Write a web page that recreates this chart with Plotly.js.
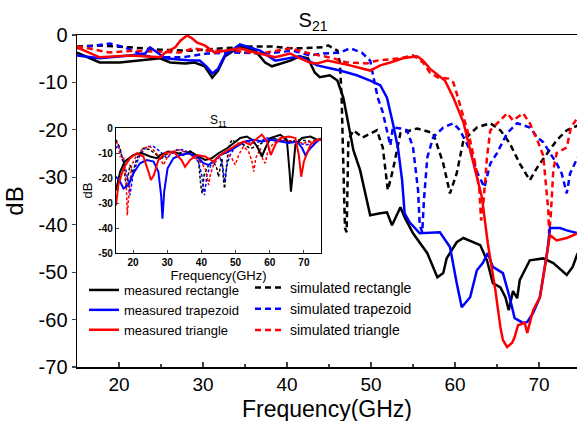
<!DOCTYPE html>
<html>
<head>
<meta charset="utf-8">
<script src="https://cdn.plot.ly/plotly-3.0.1.min.js"></script>
<style>html,body{margin:0;padding:0;background:#fff;}#chart{width:577px;height:421px;}</style>
</head>
<body>
<div id="chart"></div>
<script>
// ---------- Main chart: S21 ----------
const measRectF = [15,16.5,17.7,20.1,22.5,24.9,26.1,27.9,29.0,30.2,31.1,31.8,32.6,34.4,36.2,37.4,38.2,39.2,40.4,41.5,42.5,43.3,43.9,45.1,46.0,46.7,47.9,48.7,49.9,51.1,51.9,52.5,53.5,54.0,55.0,56.7,57.9,58.6,59.0,60.2,61.0,63.0,63.8,64.5,65.4,66.0,66.4,66.9,67.4,67.7,68.9,70.5,71.7,73.3,74.0,74.6];
const measRectDB = [-3.7,-4.9,-5.8,-5.8,-5.4,-4.9,-5.8,-6.0,-5.8,-6.6,-9.0,-7.5,-4.5,-2.4,-3.3,-5.8,-6.6,-6.0,-5.4,-4.5,-4.9,-7.9,-8.9,-8.5,-9.6,-13.2,-24.3,-28.5,-38.0,-37.6,-37.4,-40.1,-36.3,-38.4,-41.8,-46.0,-51.1,-50.2,-47.1,-43.7,-42.8,-44.3,-47.5,-52.3,-53.2,-55.3,-58.0,-54.0,-55.5,-51.7,-47.5,-47.1,-48.1,-50.6,-48.9,-46.0];

const measTrapF = [15.0,17.7,21.3,23.1,23.7,24.5,25.5,28.5,29.6,30.4,31.1,31.8,32.6,34.4,36.8,38.6,40.4,41.5,43.6,46.3,48.3,49.9,51.1,51.9,52.6,53.2,53.7,54.0,54.6,55.8,58.2,59.4,60.2,60.8,61.8,62.6,63.3,63.9,64.5,65.7,66.5,67.1,68.1,68.6,69.3,70.1,71.0,71.3,72.5,73.3,74.6];
const measTrapDB = [-4.3,-4.9,-4.3,-3.9,-2.6,-3.7,-4.9,-5.4,-5.4,-6.6,-8.1,-7.1,-4.3,-2.0,-3.3,-5.4,-4.9,-4.5,-6.4,-7.5,-8.5,-9.6,-10.6,-13.2,-18.6,-23.7,-30.6,-37.6,-39.5,-41.8,-41.6,-44.7,-52.3,-57.4,-55.3,-49.6,-48.1,-46.0,-48.9,-50.2,-55.3,-59.7,-60.7,-60.5,-58.6,-55.3,-45.4,-40.7,-40.7,-41.2,-41.8];

const measTriF = [15.0,16.5,17.7,21.3,24.9,25.5,26.7,27.3,28.1,28.7,29.3,30.2,31.4,32.6,34.4,36.2,38.6,40.4,41.5,42.7,43.6,44.8,47.5,49.9,51.1,52.3,53.8,55.5,56.2,57.0,58.8,59.8,61.0,62.1,63.2,63.9,64.8,65.4,65.7,66.2,66.8,67.1,67.5,68.3,68.6,69.3,70.1,70.5,71.1,71.3,72.1,73.3,74.6];
const measTriDB = [-2.6,-3.7,-4.7,-4.3,-4.7,-3.7,-2.6,-1.2,-0.1,-0.7,-1.6,-2.2,-3.7,-3.3,-2.8,-3.7,-4.7,-3.9,-4.9,-5.8,-6.0,-5.4,-6.4,-7.5,-6.4,-5.8,-4.9,-4.5,-5.4,-7.1,-9.6,-13.2,-18.4,-26.4,-34.2,-43.9,-53.8,-61.6,-64.3,-65.8,-64.9,-63.7,-61.2,-60.7,-62.8,-58.0,-55.3,-51.1,-43.9,-42.2,-43.3,-42.8,-41.8];

const simRectF = [15.0,17.7,21.3,24.9,28.5,32.0,35.6,38.0,40.4,41.5,44.3,44.9,46.0,46.3,46.5,46.7,46.9,47.1,47.3,47.9,49.0,50.7,51.4,52.0,52.6,53.5,55.5,57.4,58.6,59.4,60.2,61.0,62.6,64.2,65.4,66.5,67.7,68.9,69.8,71.0,72.1,73.3,74.6];
const simRectDB = [-2.4,-2.2,-2.6,-3.1,-3.3,-2.8,-2.4,-2.4,-2.8,-2.8,-2.6,-2.2,-3.3,-6.0,-13.2,-27.1,-40.7,-41.6,-22.2,-20.1,-21.6,-20.1,-23.7,-32.7,-28.5,-20.7,-19.7,-20.7,-27.1,-33.4,-29.2,-22.2,-19.5,-18.6,-20.1,-22.8,-27.1,-30.6,-27.9,-24.9,-22.2,-20.1,-19.1];

const simTrapF = [15.0,16.5,18.9,20.7,22.9,24.5,27.6,30.5,33.6,37.6,40.7,42.7,44.3,46.3,47.5,48.9,49.9,50.2,50.8,51.4,51.7,52.3,52.6,53.5,54.3,55.0,55.6,55.8,56.1,56.3,56.7,57.4,58.6,59.8,60.6,61.8,62.7,63.5,64.2,65.0,66.2,67.4,68.9,69.8,70.5,71.3,72.1,72.7,73.3,73.7,74.6];
const simTrapDB = [-2.8,-2.4,-1.8,-2.6,-4.3,-4.7,-4.7,-3.9,-3.7,-3.9,-3.3,-4.3,-3.9,-3.7,-2.8,-3.7,-5.4,-8.1,-13.2,-16.3,-18.6,-23.3,-19.5,-19.7,-20.1,-23.7,-32.7,-40.1,-41.6,-34.8,-25.8,-21.6,-19.5,-18.6,-20.1,-24.3,-29.2,-32.1,-27.1,-24.9,-20.7,-18.6,-19.5,-21.6,-22.6,-24.9,-27.1,-29.2,-33.4,-29.2,-25.8];

const simTriF = [15.0,15.7,18.9,21.7,27.3,28.8,30.5,33.6,36.8,40.4,42.7,45.5,47.1,49.5,50.7,53.5,55.0,56.2,57.0,57.9,59.2,59.8,60.2,61.0,61.8,62.4,62.9,63.1,63.3,63.6,63.8,64.2,65.0,65.7,66.2,66.9,68.1,68.9,69.8,70.5,70.7,71.1,71.2,71.4,71.7,72.1,73.3,73.8,74.6];
const simTriDB = [-2.4,-2.6,-3.7,-3.3,-3.7,-2.8,-3.3,-3.3,-3.9,-2.8,-3.9,-4.9,-5.8,-6.0,-5.4,-4.9,-4.3,-5.8,-7.9,-8.9,-9.2,-10.0,-12.3,-17.4,-22.2,-27.1,-32.7,-39.1,-36.9,-30.6,-25.8,-20.1,-18.6,-17.4,-16.5,-18.0,-16.5,-18.6,-22.2,-25.4,-29.6,-36.9,-41.8,-38.0,-28.5,-24.9,-23.7,-19.5,-17.4];

// ---------- Inset: S11 ----------
const inMeasRectF = [15,16.2,17.6,20.1,22.5,25,26.9,27.9,30.3,32.8,34.7,36.7,39.1,41.1,43,45,47.5,49.4,51.4,53.3,54.8,56.3,57.7,58.7,60.2,63.1,65,65.8,66.2,66.8,67.5,69.4,71.9,73.8,75];
const inMeasRectDB = [-25,-17.5,-13.4,-10.8,-10,-11.4,-12.1,-10.8,-9.4,-10,-10.8,-9.4,-11.4,-12.8,-12.1,-10.1,-8.1,-6,-4,-3.4,-4.7,-7.4,-11.4,-8.1,-4,-2.7,-4.7,-17.5,-25.5,-17.5,-6.7,-4,-3.4,-4.7,-4.7];

const inMeasTrapF = [15,16.2,17.2,18.6,20.1,22,24,26,27.4,28.2,28.6,29.1,30.1,31.8,33.8,36.2,38.7,40.6,42.1,43.5,45.5,47.9,50.4,52.8,55.3,57.7,60.2,63.1,65.6,68,69.5,70.4,71.9,73.8,75];
const inMeasTrapDB = [-19.5,-21.5,-24.2,-22.8,-18.1,-14.1,-12.8,-13.4,-17.5,-26.9,-36.3,-25.5,-16.1,-12.1,-10.8,-10.1,-11.4,-14.1,-14.8,-13.4,-10.8,-9.4,-7.4,-5.4,-4.7,-5.4,-4.7,-5.4,-6,-5.4,-8.1,-10.8,-8.1,-5.4,-4.4];

const inMeasTriF = [15,15.7,17.2,19.1,21.1,23,24.5,25.2,26.1,27.4,29.4,31.8,34.2,35.2,36.7,38.7,41.1,43.5,45.5,47.9,50.4,52.3,54.3,55.8,57.7,59.2,60.3,61.6,63.1,65.6,67.5,68.5,69.2,70,71.9,73.8,75];
const inMeasTriDB = [-31,-22.8,-16.1,-12.1,-10.1,-11.4,-17.5,-20.8,-18.8,-12.8,-10.1,-9.4,-12.8,-15.5,-12.8,-10.8,-11.4,-13.4,-10.8,-8.7,-6.7,-5.4,-6.7,-4.7,-2.7,-5.4,-10.8,-6.7,-4,-3.4,-4,-10.8,-19.5,-13.4,-6.7,-4.7,-4.7];

const inSimRectF = [15,16.2,17.2,18,18.6,19.1,19.9,21.1,23,25,26.9,27.9,29.4,31.3,33.3,35.2,37.2,39.1,39.8,40.2,40.8,42.1,43.5,44.5,45,45.5,46,46.5,46.8,47.3,47.9,48.9,50.4,52.3,54.3,56.3,58.2,60.2,63.1,66,69,71.9,75];
const inSimRectDB = [-4.7,-8.1,-14.8,-23.5,-18.8,-14.8,-18.1,-12.1,-8.1,-8.7,-10.8,-12.8,-10.8,-9.4,-10.1,-9.4,-9.4,-12.1,-22.8,-26.2,-18.8,-14.8,-13.4,-16.1,-19.5,-14.8,-12.1,-21.5,-24.2,-16.1,-8.1,-4.7,-6,-6.7,-8.1,-7.4,-5.4,-4,-4.7,-5.4,-4.7,-5.4,-4.7];

const inSimTrapF = [15,15.7,16.6,17.6,18.6,19.1,20.1,22,24,26,27.9,29.9,30.8,32.8,34.7,37.2,39.1,40.1,40.9,41.6,43,44.5,45.5,46.3,46.8,47.5,48.4,49.9,51.4,53.3,55.3,57.2,59.2,62.1,65,68,70.9,72.9,75];
const inSimTrapDB = [-8.1,-6.7,-10.8,-14.8,-21.5,-26.9,-17.5,-10.8,-7.4,-7.4,-9.4,-12.1,-10.8,-8.7,-8.7,-10.8,-13.4,-18.8,-26.9,-18.8,-14.1,-12.1,-12.1,-16.1,-21.5,-14.8,-10.8,-7.4,-6,-5.4,-6,-5.4,-4,-4.7,-5.4,-6,-6.7,-6,-4.7];

const inSimTriF = [15,15.7,16.2,17.2,18,18.3,18.9,19.6,21.1,23,25,26.4,27.9,28.9,30.1,31.8,33.8,35.7,37.6,39.6,41.1,42.1,42.6,43.5,45,46.5,47.9,48.9,49.9,50.9,52.3,53.8,54.8,55.3,55.9,57.2,58,58.7,59.4,61.1,64.1,67,69.9,72.9,75];
const inSimTriDB = [-5.4,-7.4,-11.4,-11.4,-21.5,-34.9,-24.2,-14.8,-10.8,-8.1,-7.4,-9.4,-12.1,-14.8,-11.4,-9.4,-8.7,-10.1,-11.4,-13.4,-16.1,-22.8,-18.8,-14.8,-12.1,-9.4,-10.8,-12.1,-14.8,-10.8,-7.4,-9.4,-13.4,-17.5,-12.1,-8.1,-12.8,-14.1,-9.4,-6,-4.7,-5.4,-6,-5.4,-4];

const xTicks = [20, 30, 40, 50, 60, 70];
const yTicksMain = [0, -10, -20, -30, -40, -50, -60, -70];
const yTickTextMain = ['0', '-10', '-20', '-30', '-40', '-50', '-60', '-70'];
const yTicksInset = [0, -10, -20, -30, -40, -50];
const yTickTextInset = ['0', '-10', '-20', '-30', '-40', '-50'];

const names = ['rectangle', 'trapezoid', 'triangle'];
const colors = ['#000000', '#0000ff', '#ff0000'];

const FONT = 'Arial, "Liberation Sans", sans-serif';

const mainSim = [[simRectF, simRectDB], [simTrapF, simTrapDB], [simTriF, simTriDB]];
const mainMeas = [[measRectF, measRectDB], [measTrapF, measTrapDB], [measTriF, measTriDB]];
const inSim = [[inSimRectF, inSimRectDB], [inSimTrapF, inSimTrapDB], [inSimTriF, inSimTriDB]];
const inMeas = [[inMeasRectF, inMeasRectDB], [inMeasTrapF, inMeasTrapDB], [inMeasTriF, inMeasTriDB]];

const traces = [];
inSim.forEach((d, i) => traces.push({x: d[0], y: d[1], xaxis: 'x2', yaxis: 'y2', mode: 'lines', showlegend: false,
  line: {color: colors[i], width: 1.5, dash: '3px,2px'}}));
inMeas.forEach((d, i) => traces.push({x: d[0], y: d[1], xaxis: 'x2', yaxis: 'y2', mode: 'lines', showlegend: false,
  line: {color: colors[i], width: 2}}));
mainSim.forEach((d, i) => traces.push({x: d[0], y: d[1], mode: 'lines', name: 'simulated ' + names[i], legend: 'legend2',
  line: {color: colors[i], width: 2.5, dash: '6px,4px'}}));
mainMeas.forEach((d, i) => traces.push({x: d[0], y: d[1], mode: 'lines', name: 'measured ' + names[i], legend: 'legend',
  line: {color: colors[i], width: 2.5}}));

const layout = {
  width: 577, height: 421,
  margin: {l: 77, r: 0, t: 35, b: 54},
  paper_bgcolor: '#ffffff', plot_bgcolor: '#ffffff',
  font: {family: FONT, color: '#000'},
  title: {text: 'S<sub>21</sub>', font: {size: 20, family: FONT}, x: 313 / 577, xanchor: 'center', y: 1 - 20 / 421, yanchor: 'middle'},
  xaxis: {
    range: [15, 74.52], tickvals: xTicks, ticks: 'inside', ticklen: 5, tickwidth: 1.2,
    minor: {dtick: 5, tick0: 15, ticks: 'inside', ticklen: 3},
    showline: true, linewidth: 1.5, linecolor: '#000', mirror: true,
    showgrid: false, zeroline: false, tickfont: {size: 19}
  },
  yaxis: {
    range: [-70, 0], tickvals: yTicksMain, ticktext: yTickTextMain, ticks: 'outside', ticklen: 4, tickwidth: 1.2,
    showline: true, linewidth: 1.5, linecolor: '#000',
    showgrid: false, zeroline: false, tickfont: {size: 20},
    title: {text: 'dB', font: {size: 24}, standoff: 8}
  },
  xaxis2: {
    domain: [(116 - 77) / 500, (321 - 77) / 500], anchor: 'y2', range: [15, 75], tickvals: xTicks,
    ticks: 'inside', ticklen: 3, showline: true, linewidth: 1.2, linecolor: '#000', mirror: true,
    showgrid: false, zeroline: false, tickfont: {size: 10, weight: 'bold'},
    title: {text: 'Frequency(GHz)', font: {size: 13}, standoff: 2}
  },
  yaxis2: {
    domain: [(367 - 253) / 332, (367 - 128) / 332], anchor: 'x2', range: [-50, 0], tickvals: yTicksInset,
    ticktext: yTickTextInset,
    ticks: 'inside', ticklen: 3, showline: true, linewidth: 1.2, linecolor: '#000', mirror: true,
    showgrid: false, zeroline: false, tickfont: {size: 10, weight: 'bold'},
    title: {text: 'dB', font: {size: 13}, standoff: 2}
  },
  annotations: [
    {text: 'S<sub>11</sub>', xref: 'paper', yref: 'paper', x: (218 - 77) / 500, y: (367 - 121) / 332,
     xanchor: 'center', yanchor: 'middle', showarrow: false, font: {size: 12}},
    {text: 'Frequency(GHz)', xref: 'paper', yref: 'paper', x: 0.5, y: (367 - 409) / 332,
     xanchor: 'center', yanchor: 'middle', showarrow: false, font: {size: 23}}
  ],
  legend: {x: (84 - 77) / 500, y: (367 - 275) / 332, xanchor: 'left', yanchor: 'top', bgcolor: 'rgba(0,0,0,0)',
    font: {size: 13}, traceorder: 'normal', tracegroupgap: 0},
  legend2: {x: (250 - 77) / 500, y: (367 - 272) / 332, xanchor: 'left', yanchor: 'top', bgcolor: 'rgba(0,0,0,0)',
    font: {size: 14}, traceorder: 'normal', tracegroupgap: 0},
  showlegend: true
};

Plotly.newPlot('chart', traces, layout, {displayModeBar: false, staticPlot: true});
</script>
</body>
</html>
